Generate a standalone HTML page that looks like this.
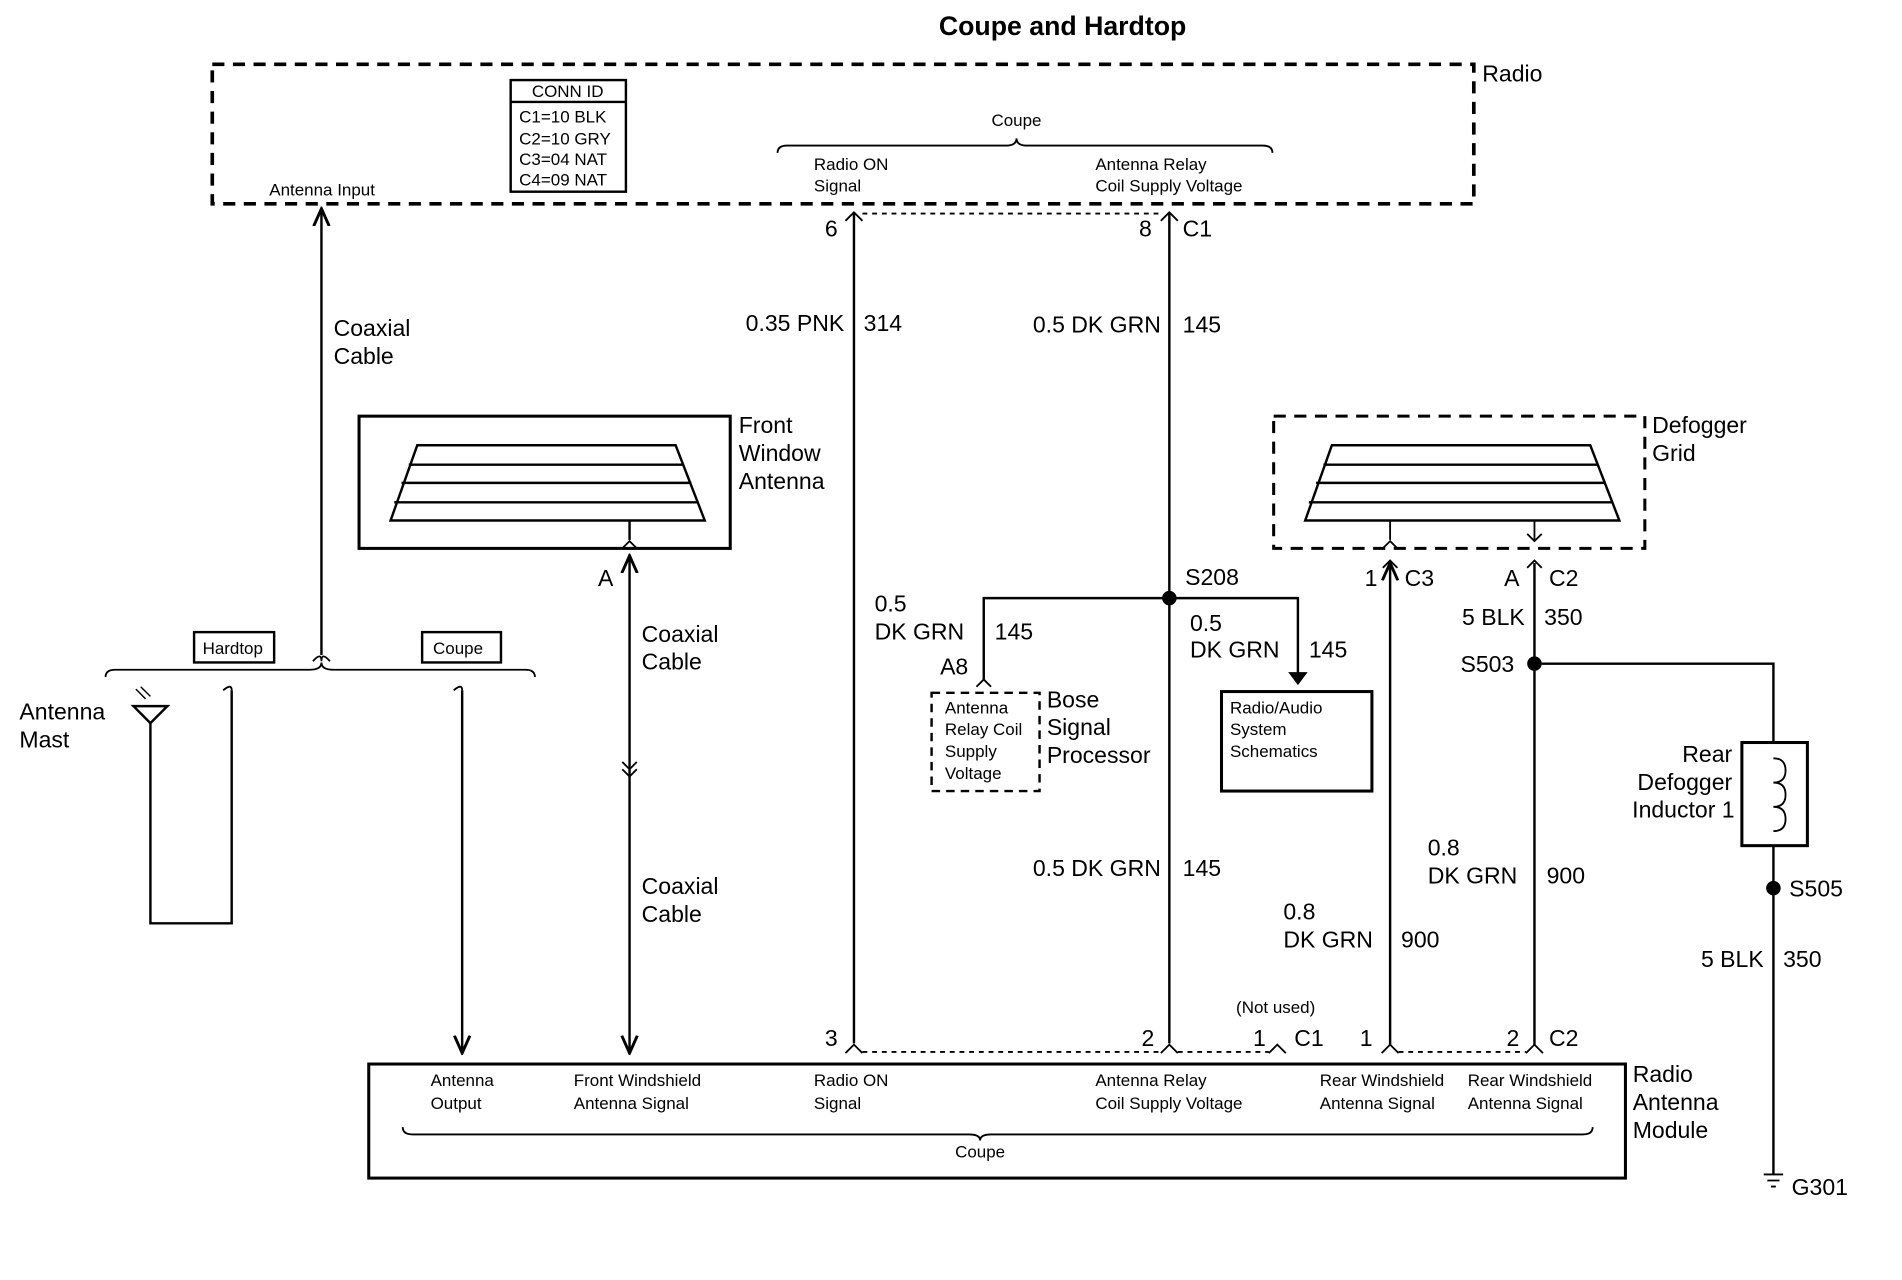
<!DOCTYPE html>
<html><head><meta charset="utf-8"><style>
html,body{margin:0;padding:0;background:#fff}
svg{display:block}
text{font-family:"Liberation Sans",sans-serif;fill:#000}
.s{font-size:14px}
.m{font-size:19px}
</style></head><body>
<svg width="1902" height="1280" viewBox="0 0 1568 1055" preserveAspectRatio="none" xmlns="http://www.w3.org/2000/svg">
<defs>
<marker id="a" viewBox="0 0 10 10" refX="9" refY="5" markerWidth="8" markerHeight="8" orient="auto-start-reverse"><path d="M0,1 L9,5 L0,9" fill="none" stroke="#000" stroke-width="1.5"/></marker>
</defs>
<g stroke="#000" stroke-width="2" fill="none">
<rect x="175" y="53" width="1040" height="115" stroke-dasharray="10,7" stroke-width="3"/>
<rect x="421" y="66" width="95" height="92"/>
<line x1="421" y1="84" x2="516" y2="84"/>
<path d="M641,126 q0,-6 8,-6 h180 q9,0 9,-6 q0,6 9,6 h194 q8,0 8,6" stroke-width="1.5"/>
<path d="M697,182 l7,-7 l7,7 M957,182 l7,-7 l7,7" stroke-width="1.5"/>
<line x1="711" y1="176" x2="957" y2="176" stroke-dasharray="4,4" stroke-width="1.5"/>
<line x1="704" y1="175" x2="704" y2="860"/>
<line x1="964" y1="175" x2="964" y2="860"/>
<line x1="265" y1="172" x2="265" y2="540" marker-start="url(#a)"/>
<path d="M258,545 q7,-8 7,0 q0,-8 7,0" stroke-width="1.5"/>
<path d="M87,558 q0,-6 8,-6 h160 q10,0 10,-6 q0,6 10,6 h158 q8,0 8,6" stroke-width="1.5"/>
<rect x="160" y="521" width="66" height="25"/>
<rect x="348" y="521" width="65" height="25"/>
<path d="M110,582 h28 l-14,14 z M124,596 v165 h67 v-192" stroke-width="2"/>
<path d="M184,569 q7,-6 7,0 M374,569 q7,-6 7,0" stroke-width="1.5"/>
<path d="M112,568 l8,8 M116,566 l8,8" stroke-width="1.2"/>
<line x1="381" y1="569" x2="381" y2="868" marker-end="url(#a)"/>
<rect x="296" y="343" width="306" height="109" stroke-width="2.5"/>
<path d="M344,367 h213 l24,62 h-259 z M337,383 h227 M331,398 h239 M325,414 h251" stroke-width="2"/>
<line x1="519" y1="429" x2="519" y2="445"/>
<path d="M513,452 l6,-6 l6,6" stroke-width="1.5"/>
<line x1="519" y1="458" x2="519" y2="868" marker-start="url(#a)" marker-end="url(#a)"/>
<path d="M513,628 l6,6 l6,-6 M513,634 l6,6 l6,-6" stroke-width="1.5"/>
<circle cx="964" cy="493" r="5" fill="#000"/>
<path d="M964,493 H811 V560 M964,493 H1070 V560"/>
<path d="M805,566 l6,-6 l6,6" stroke-width="1.5"/>
<path d="M1064,555 h12 l-6,8 z" fill="#000"/>
<rect x="768" y="571" width="89" height="81" stroke-dasharray="7,5"/>
<rect x="1007" y="570" width="124" height="82" stroke-width="2.5"/>
<rect x="1050" y="343" width="306" height="109" stroke-dasharray="10,7" stroke-width="2.5"/>
<path d="M1098,367 h213 l24,62 h-259 z M1091,383 h227 M1085,398 h239 M1079,414 h251" stroke-width="2"/>
<path d="M1146,429 v16 M1140,452 l6,-6 l6,6 M1265,429 v16 M1259,440 l6,6 l6,-6" stroke-width="1.5"/>
<path d="M1140,468 l6,-6 l6,6 M1259,468 l6,-6 l6,6" stroke-width="1.5"/>
<line x1="1146" y1="464" x2="1146" y2="862" marker-start="url(#a)"/>
<line x1="1265" y1="464" x2="1265" y2="862"/>
<circle cx="1265" cy="547" r="5" fill="#000"/>
<path d="M1265,547 H1462 V612"/>
<rect x="1436" y="612" width="54" height="85" stroke-width="2.5"/>
<path d="M1462,625 q10,0 10,10 q0,10 -10,10 q10,0 10,10 q0,10 -10,10 q10,0 10,10 q0,10 -10,10" stroke-width="1.5"/>
<line x1="1462" y1="697" x2="1462" y2="968"/>
<circle cx="1462" cy="732" r="5" fill="#000"/>
<path d="M1454,968 h16 M1457,973 h10 M1460,978 h4" stroke-width="1.5"/>
<path d="M697,868 l7,-7 l7,7 M957,868 l7,-7 l7,7 M1046,868 l7,-7 l7,7 M1139,868 l7,-7 l7,7 M1258,868 l7,-7 l7,7" stroke-width="1.5"/>
<path d="M711,867 H957 M971,867 H1046 M1153,867 H1258" stroke-dasharray="4,4" stroke-width="1.5"/>
<rect x="304" y="877" width="1036" height="94" stroke-width="2.5"/>
<path d="M332,929 q0,6 8,6 h459 q9,0 9,5 q0,-5 9,-5 h488 q8,0 8,-6" stroke-width="1.5"/>
</g>
<text x="876" y="29" text-anchor="middle" style="font-size:22px;font-weight:bold">Coupe and Hardtop</text>
<text x="1222" y="67" class="m">Radio</text>
<text x="468" y="80" text-anchor="middle" class="s">CONN ID</text>
<text x="428" y="101" class="s">C1=10 BLK</text>
<text x="428" y="119" class="s">C2=10 GRY</text>
<text x="428" y="136" class="s">C3=04 NAT</text>
<text x="428" y="153" class="s">C4=09 NAT</text>
<text x="222" y="161" class="s">Antenna Input</text>
<text x="838" y="104" text-anchor="middle" class="s">Coupe</text>
<text x="671" y="140" class="s">Radio ON</text><text x="671" y="158" class="s">Signal</text>
<text x="903" y="140" class="s">Antenna Relay</text><text x="903" y="158" class="s">Coil Supply Voltage</text>
<text x="680" y="195" class="m">6</text><text x="939" y="195" class="m">8</text><text x="975" y="195" class="m">C1</text>
<text x="696" y="273" text-anchor="end" class="m">0.35 PNK</text><text x="712" y="273" class="m">314</text>
<text x="957" y="274" text-anchor="end" class="m">0.5 DK GRN</text><text x="975" y="274" class="m">145</text>
<text x="275" y="277" class="m">Coaxial</text><text x="275" y="300" class="m">Cable</text>
<text x="609" y="357" class="m">Front</text><text x="609" y="380" class="m">Window</text><text x="609" y="403" class="m">Antenna</text>
<text x="1362" y="357" class="m">Defogger</text><text x="1362" y="380" class="m">Grid</text>
<text x="493" y="483" class="m">A</text>
<text x="529" y="529" class="m">Coaxial</text><text x="529" y="552" class="m">Cable</text>
<text x="529" y="737" class="m">Coaxial</text><text x="529" y="760" class="m">Cable</text>
<text x="167" y="539" class="s">Hardtop</text><text x="357" y="539" class="s">Coupe</text>
<text x="16" y="593" class="m">Antenna</text><text x="16" y="616" class="m">Mast</text>
<text x="977" y="482" class="m">S208</text>
<text x="721" y="504" class="m">0.5</text><text x="721" y="527" class="m">DK GRN</text><text x="820" y="527" class="m">145</text>
<text x="775" y="556" class="m">A8</text>
<text x="981" y="520" class="m">0.5</text><text x="981" y="542" class="m">DK GRN</text><text x="1079" y="542" class="m">145</text>
<text x="779" y="588" class="s">Antenna</text><text x="779" y="606" class="s">Relay Coil</text><text x="779" y="624" class="s">Supply</text><text x="779" y="642" class="s">Voltage</text>
<text x="863" y="583" class="m">Bose</text><text x="863" y="606" class="m">Signal</text><text x="863" y="629" class="m">Processor</text>
<text x="1014" y="588" class="s">Radio/Audio</text><text x="1014" y="606" class="s">System</text><text x="1014" y="624" class="s">Schematics</text>
<text x="1125" y="483" class="m">1</text><text x="1158" y="483" class="m">C3</text>
<text x="1240" y="483" class="m">A</text><text x="1277" y="483" class="m">C2</text>
<text x="1257" y="515" text-anchor="end" class="m">5 BLK</text><text x="1273" y="515" class="m">350</text>
<text x="1204" y="554" class="m">S503</text>
<text x="1428" y="628" text-anchor="end" class="m">Rear</text><text x="1428" y="651" text-anchor="end" class="m">Defogger</text><text x="1430" y="674" text-anchor="end" class="m">Inductor 1</text>
<text x="957" y="722" text-anchor="end" class="m">0.5 DK GRN</text><text x="975" y="722" class="m">145</text>
<text x="1177" y="705" class="m">0.8</text><text x="1177" y="728" class="m">DK GRN</text><text x="1275" y="728" class="m">900</text>
<text x="1058" y="758" class="m">0.8</text><text x="1058" y="781" class="m">DK GRN</text><text x="1155" y="781" class="m">900</text>
<text x="1475" y="739" class="m">S505</text>
<text x="1454" y="797" text-anchor="end" class="m">5 BLK</text><text x="1470" y="797" class="m">350</text>
<text x="1019" y="835" class="s">(Not used)</text>
<text x="680" y="862" class="m">3</text><text x="941" y="862" class="m">2</text><text x="1033" y="862" class="m">1</text><text x="1067" y="862" class="m">C1</text>
<text x="1121" y="862" class="m">1</text><text x="1242" y="862" class="m">2</text><text x="1277" y="862" class="m">C2</text>
<text x="355" y="895" class="s">Antenna</text><text x="355" y="914" class="s">Output</text>
<text x="473" y="895" class="s">Front Windshield</text><text x="473" y="914" class="s">Antenna Signal</text>
<text x="671" y="895" class="s">Radio ON</text><text x="671" y="914" class="s">Signal</text>
<text x="903" y="895" class="s">Antenna Relay</text><text x="903" y="914" class="s">Coil Supply Voltage</text>
<text x="1088" y="895" class="s">Rear Windshield</text><text x="1088" y="914" class="s">Antenna Signal</text>
<text x="1210" y="895" class="s">Rear Windshield</text><text x="1210" y="914" class="s">Antenna Signal</text>
<text x="808" y="954" text-anchor="middle" class="s">Coupe</text>
<text x="1346" y="892" class="m">Radio</text><text x="1346" y="915" class="m">Antenna</text><text x="1346" y="938" class="m">Module</text>
<text x="1477" y="985" class="m">G301</text>
</svg>
</body></html>
